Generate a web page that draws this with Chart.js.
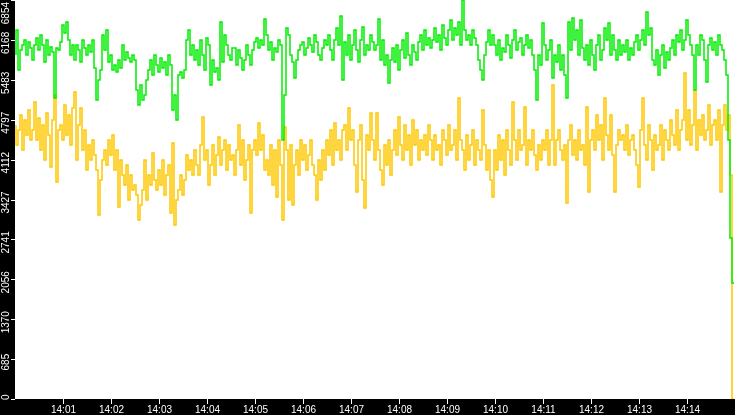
<!DOCTYPE html>
<html>
<head>
<meta charset="utf-8">
<script src="https://cdn.jsdelivr.net/npm/chart.js@4.4.1/dist/chart.umd.min.js"></script>
<style>
html,body{margin:0;padding:0;background:#000;overflow:hidden}
canvas{display:block}
</style>
</head>
<body>
<canvas id="grafico" width="735" height="415"></canvas>
<script>
// marcas del eje x (segundos desde las 14:00:00) y sus textos
const segundosEtiquetas = [60, 120, 180, 240, 300, 360, 420, 480, 540, 600, 660, 720, 780, 840];
const etiquetasHora = ["14:01", "14:02", "14:03", "14:04", "14:05", "14:06", "14:07", "14:08", "14:09", "14:10", "14:11", "14:12", "14:13", "14:14"];
const marcasY = [0, 685, 1370, 2056, 2741, 3427, 4112, 4797, 5483, 6168, 6854];

// una muestra cada 2.5 s, en el centro de cada intervalo
const inicioMuestras = 1.25;
const pasoMuestras = 2.5;

const valoresVerde = [
  5910,6340,5652,5996,6082,6168,5910,6133,6030,5824,
  6082,6202,5996,6254,6082,5790,6168,5910,6048,5962,
  5171,6030,5996,6133,6425,6288,6477,6168,5910,6082,
  5824,6082,5996,5790,6168,6030,5910,6082,5962,6168,
  5687,5137,5481,5652,6254,5996,6340,5790,5910,5652,
  5738,5618,5824,5687,6082,5824,5962,5859,5790,5910,
  5824,5309,5051,5395,5137,5223,5481,5652,5824,5566,
  5910,5738,5618,5859,5687,5790,5566,5910,5738,4965,
  5223,4793,5566,5618,5515,5652,6168,6340,5910,6082,
  5824,5996,5738,6168,5910,5652,6202,6082,5395,5824,
  5618,5687,5481,6477,5790,6254,6082,5910,5824,6030,
  6030,5738,5996,5859,5652,5824,6082,5910,5738,5996,
  6133,6202,6030,6168,6082,6529,6254,5996,6133,5824,
  6030,5962,6168,6082,4450,5223,6374,6254,5910,5790,
  5515,5824,5996,6082,6133,5910,6030,6202,6082,5962,
  6254,6133,5910,5824,6030,6168,6082,6254,5996,5824,
  6168,6374,6082,6580,5481,6133,5910,6254,5824,6082,
  6340,5996,5790,6168,6391,5910,6082,5996,6254,6133,
  5996,6082,6529,5824,6168,5738,5910,5429,5824,6030,
  5790,6082,5652,5996,6168,5859,6288,5910,5738,6082,
  5962,5824,6133,6254,5996,6340,6082,6202,6030,6168,
  6374,6133,6254,5996,6425,6202,6082,6340,6511,6168,
  6374,6254,6477,6082,6854,6340,6168,6254,6082,6340,
  6202,6082,5824,5652,5481,5910,6133,6340,6082,6254,
  6082,5910,6168,5824,6030,5962,6254,6082,5859,6168,
  6340,5996,6133,6202,5910,6082,6254,6030,6168,5910,
  5652,5137,5910,5738,6460,6082,5824,5996,6168,5515,
  5910,5790,6082,5652,5910,5566,5171,6477,5996,6546,
  6168,6340,5910,6511,6030,5824,6082,5738,6168,5910,
  5652,6082,6254,5824,5996,6374,6168,6460,5910,6254,
  5996,5824,6168,5910,6082,5962,6168,5824,6030,5910,
  6133,6254,5996,6168,6340,6082,6649,6254,6374,5824,
  5738,5996,5566,5910,6082,5687,5962,5824,6030,6168,
  5910,6254,6133,6340,5996,6168,6511,6254,6082,5910,
  5309,6082,5910,6254,6168,5824,5446,6082,6202,5996,
  6133,5910,6254,6082,5996,5824,5566,4450,2766,1993
];

const valoresAmarillo = [
  4707,4364,4622,4879,4278,4793,4536,4965,4450,4622,
  5103,4450,4828,4278,4707,4106,4914,4536,3986,4793,
  5223,3728,4622,4707,4450,5051,4536,4879,4364,5000,
  5274,4106,4707,5000,4278,4622,3934,4364,4106,4450,
  4192,3934,3161,3763,4106,4278,4020,4450,4192,4536,
  3934,4278,3299,4106,3848,3677,4020,3419,3848,3591,
  3677,3505,3075,3333,3591,4106,3419,3848,3677,4226,
  3763,3591,3934,3677,4106,3505,3848,4020,3196,4398,
  2989,3419,3591,3848,3505,3763,4192,3934,4106,3848,
  4278,4020,3848,4364,4845,4106,4278,3677,4020,4364,
  3848,4192,4501,4020,4278,4450,3934,4364,4106,4192,
  3848,4278,4707,4020,4450,3763,4106,4364,3196,4278,
  4450,4192,4742,4278,4536,3934,4106,3848,4364,3677,
  4278,3471,4450,4020,3075,4673,4278,3419,4364,3333,
  4020,4278,3848,4450,4106,4364,3934,4192,4450,4020,
  3848,3419,4106,3763,4278,3934,4450,4192,4622,4020,
  4742,4278,4450,4106,4622,4707,4278,5000,4450,4622,
  4020,3556,4450,4707,3763,3282,4536,4278,4914,4450,
  4106,4914,4278,3934,3677,4364,4020,4450,3848,4278,
  4622,4192,4845,4364,4106,4707,4278,4536,4020,4793,
  4364,4622,4106,4450,4278,4536,4192,4707,4450,4106,
  4536,4278,4364,4020,4622,4450,4192,4707,4278,4364,
  4622,4106,5171,4450,4278,3934,4536,4106,4364,4622,
  4020,4450,4278,4106,4965,4364,3934,4278,3763,3471,
  4278,3934,4536,4106,4450,3848,4622,4278,4020,5103,
  4450,4106,4622,4278,4364,5017,4020,4450,4278,4622,
  4192,3934,4364,4106,4450,4278,4622,4020,4450,5395,
  4020,4450,4622,4278,4106,4364,3367,4450,4707,4192,
  4450,4106,4622,4278,4364,4020,5017,3556,4450,4622,
  4278,4879,4450,4707,4106,5171,4536,4278,4879,4192,
  3556,4364,4622,4450,4536,4278,4707,4192,4450,4536,
  4278,4020,3642,4622,5171,4364,4106,4707,4450,3934,
  4536,4278,4364,4707,4106,4622,4450,4278,4793,4536,
  4364,4965,4278,4622,4793,5601,4450,4965,4364,4707,
  5309,4278,4793,4536,4879,4450,4622,5051,4364,4707,
  4793,4450,4965,3556,4707,5051,4622,4879,3848,0
];

const aPuntos = (valores) => valores.map((v, i) => ({ x: inicioMuestras + pasoMuestras * i, y: v }));

const marco = {
  id: "marco",
  beforeDraw(chart) {
    const { ctx, chartArea: a } = chart;
    ctx.save();
    ctx.fillStyle = "#000";
    ctx.fillRect(0, 0, chart.width, chart.height);
    ctx.fillStyle = "#fff";
    ctx.fillRect(a.left, a.top, a.right - a.left, a.bottom - a.top);
    ctx.restore();
  },
  afterDraw(chart) {
    const { ctx, chartArea: a, scales } = chart;
    ctx.save();
    ctx.strokeStyle = "#fff";
    ctx.fillStyle = "#fff";
    ctx.lineWidth = 1;
    ctx.font = '10px "Liberation Sans"';

    // eje de tiempo
    ctx.textAlign = "center";
    ctx.textBaseline = "top";
    segundosEtiquetas.forEach((s, i) => {
      const x = Math.round(scales.x.getPixelForValue(s)) + 0.5;
      ctx.beginPath();
      ctx.moveTo(x, a.bottom);
      ctx.lineTo(x, a.bottom + 5);
      ctx.stroke();
      ctx.fillText(etiquetasHora[i], x, a.bottom + 6);
    });

    // eje de valores, texto girado
    ctx.textBaseline = "middle";
    marcasY.forEach((v) => {
      const py = scales.y.getPixelForValue(v);
      const y = Math.round(py) + 0.5;
      ctx.beginPath();
      ctx.moveTo(a.left - 4, y);
      ctx.lineTo(a.left, y);
      ctx.stroke();
      const texto = String(v);
      const mitad = ctx.measureText(texto).width / 2;
      let cy = py + 3;
      cy = Math.max(cy, 2 + mitad);
      cy = Math.min(cy, a.bottom + 1 - mitad);
      ctx.save();
      ctx.translate(6.5, cy);
      ctx.rotate(-Math.PI / 2);
      ctx.fillText(texto, 0, 0);
      ctx.restore();
    });
    ctx.restore();
  }
};

const grafico = new Chart(document.getElementById("grafico"), {
  type: "line",
  data: {
    datasets: [
      {
        label: "verde",
        data: aPuntos(valoresVerde),
        borderColor: "#00ee00",
        borderWidth: 1.5,
        pointRadius: 0,
        stepped: "after",
        fill: false
      },
      {
        label: "amarillo",
        data: aPuntos(valoresAmarillo),
        borderColor: "#ffc800",
        borderWidth: 1.5,
        pointRadius: 0,
        stepped: "after",
        fill: false
      }
    ]
  },
  options: {
    responsive: false,
    animation: false,
    devicePixelRatio: 1,
    events: [],
    layout: { padding: { left: 15, right: 0, top: 0, bottom: 16 } },
    plugins: { legend: { display: false }, tooltip: { enabled: false } },
    scales: {
      x: { type: "linear", min: 0, max: 900, display: false },
      y: { type: "linear", min: 0, max: 6854, display: false }
    }
  },
  plugins: [marco]
});
</script>
</body>
</html>
